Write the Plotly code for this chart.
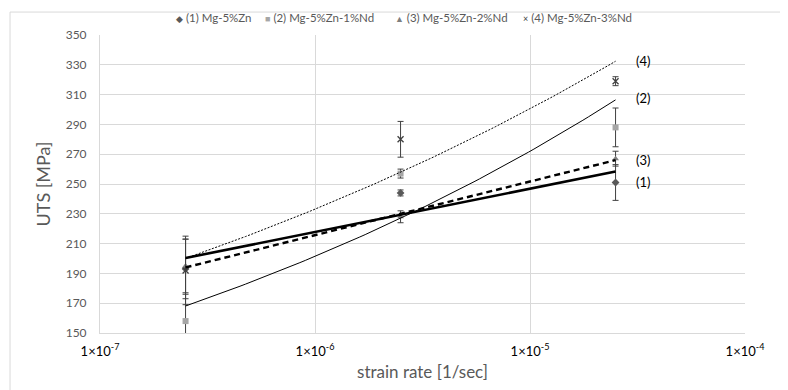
import numpy as np
import plotly.graph_objects as go

# ---- data ----
strain_rate = [2.5e-7, 2.5e-6, 2.5e-5]
series_names = ["(1) Mg-5%Zn", "(2) Mg-5%Zn-1%Nd", "(3) Mg-5%Zn-2%Nd", "(4) Mg-5%Zn-3%Nd"]
short_labels = ["(1)", "(2)", "(3)", "(4)"]
uts_1 = [193, 244, 251]
err_1 = [20, 2, 12]
uts_2 = [158, 257, 288]
err_2 = [18, 3, 13]
uts_3 = [195, 228, 267]
err_3 = [18, 4, 5]
uts_4 = [192, 280, 319]
err_4 = [23, 12, 3]
trend_kind = ["log", "power", "log", "power"]

x_tickvals = [1e-7, 1e-6, 1e-5, 1e-4]
x_ticktext = ["1×10<sup>-7</sup>", "1×10<sup>-6</sup>", "1×10<sup>-5</sup>", "1×10<sup>-4</sup>"]
y_tickvals = list(range(150, 351, 20))

# ---- styles ----
symbols = ["diamond", "square", "triangle-up", "x-thin"]
legend_glyphs = ["◆", "■", "▲", "×"]
legend_x = [0.1147, 0.2527, 0.4543, 0.6527]
mcolors = ["#595959", "#a6a6a6", "#7f7f7f", "#404040"]
line_styles = [dict(width=2.6, dash="solid"), dict(width=1, dash="solid"),
               dict(width=2.4, dash="6px,4px"), dict(width=1, dash="2px,1.5px")]
label_yshift = [-10, 2, 0, 0]

FONT = "Lato, 'Open Sans', sans-serif"
GREY = "#595959"
BORDER = "#d9d9d9"

values = [uts_1, uts_2, uts_3, uts_4]
errors = [err_1, err_2, err_3, err_4]

fig = go.Figure()

for i in range(4):
    mk = dict(symbol=symbols[i], size=6, color=mcolors[i])
    if i == 3:
        mk["line"] = dict(width=1.3, color=mcolors[i])
    fig.add_trace(go.Scatter(
        x=strain_rate, y=values[i], mode="markers", name=series_names[i],
        marker=mk, showlegend=False,
        error_y=dict(type="data", array=errors[i], visible=True,
                     color="#404040", thickness=1, width=3),
    ))
    # legend entry drawn as text
    fig.add_annotation(xref="paper", yref="paper", x=legend_x[i], y=1.06,
                       xanchor="left", yanchor="middle", showarrow=False,
                       text=f"<span style='color:{mcolors[i]};font-size:9px'>{legend_glyphs[i]}</span> {series_names[i]}",
                       font=dict(family=FONT, size=11.5, color=GREY))

lx = np.log10(np.array(strain_rate))
xx = np.logspace(np.log10(strain_rate[0]), np.log10(strain_rate[-1]), 80)
for i in range(4):
    y = np.array(values[i], dtype=float)
    if trend_kind[i] == "log":
        b, a = np.polyfit(lx, y, 1)
        yy = a + b * np.log10(xx)
    else:
        b, a = np.polyfit(lx, np.log(y), 1)
        yy = np.exp(a + b * np.log10(xx))
    fig.add_trace(go.Scatter(x=xx, y=yy, mode="lines", showlegend=False,
                             hoverinfo="skip",
                             line=dict(color="#000000", **line_styles[i])))
    fig.add_annotation(x=np.log10(xx[-1]), y=yy[-1], text=short_labels[i],
                       showarrow=False, xanchor="left", xshift=18,
                       yshift=label_yshift[i],
                       font=dict(family=FONT, size=13, color="#000000"))

fig.update_layout(
    width=780, height=382,
    margin=dict(l=92, r=43, t=27, b=57, autoexpand=False),
    paper_bgcolor="white", plot_bgcolor="white",
    font=dict(family=FONT, color=GREY),
    showlegend=False,
)
fig.update_xaxes(type="log", range=[-7, -4], tickvals=x_tickvals, ticktext=x_ticktext,
                 showgrid=True, gridcolor=BORDER, gridwidth=1,
                 showline=True, linecolor=BORDER, mirror=False,
                 ticks="", ticklabelstandoff=6,
                 tickfont=dict(size=13, color="#000000"),
                 title=dict(text="strain rate [1/sec]", font=dict(size=17, color=GREY), standoff=8),
                 zeroline=False)
fig.update_yaxes(range=[150, 350], tickvals=y_tickvals,
                 showgrid=True, gridcolor=BORDER, gridwidth=1,
                 showline=True, linecolor=BORDER,
                 ticks="", ticklabelstandoff=10, tickfont=dict(size=12, color=GREY),
                 title=dict(text="UTS [MPa]", font=dict(size=18, color=GREY), standoff=10),
                 zeroline=False)
fig.add_shape(type="line", xref="x", yref="paper", x0=-4, x1=-4, y0=0, y1=1,
              line=dict(color=BORDER, width=1))
# chart-area frame (left and top edges visible in the crop)
fig.add_shape(type="line", xref="paper", yref="paper", x0=-0.1395, x1=-0.1395, y0=-0.3, y1=1.077,
              line=dict(color=BORDER, width=1))
fig.add_shape(type="line", xref="paper", yref="paper", x0=-0.1395, x1=1.2, y0=1.077, y1=1.077,
              line=dict(color=BORDER, width=1))

fig.write_html("out.html")
